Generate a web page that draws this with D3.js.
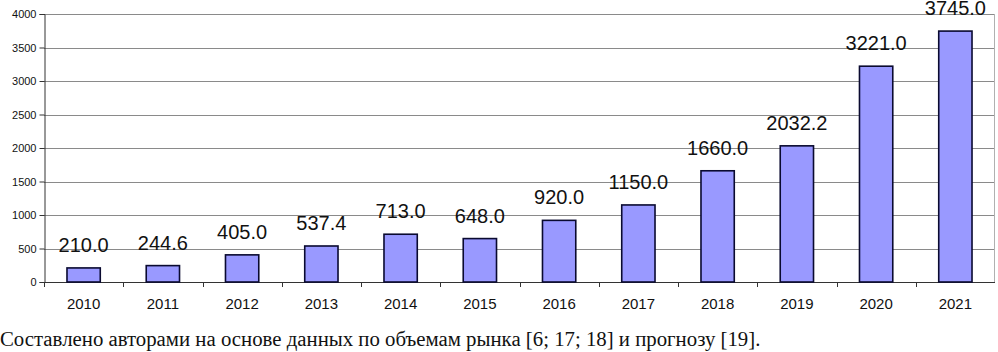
<!DOCTYPE html>
<html>
<head>
<meta charset="utf-8">
<script src="https://cdn.jsdelivr.net/npm/d3@7"></script>
<style>
  body { margin: 0; background: #fff; }
  svg { display: block; }
</style>
</head>
<body>
<div id="chart"></div>
<script>
const years = ['2010', '2011', '2012', '2013', '2014', '2015', '2016', '2017', '2018', '2019', '2020', '2021']
const values = [210.0, 244.6, 405.0, 537.4, 713.0, 648.0, 920.0, 1150.0, 1660.0, 2032.2, 3221.0, 3745.0]
const yTicks = [0, 500, 1000, 1500, 2000, 2500, 3000, 3500, 4000]
const caption = 'Составлено авторами на основе данных по объемам рынка [6; 17; 18] и прогнозу [19].'

const margin = { top: 14, right: 3, bottom: 70, left: 44 }
const totalWidth = 998
const totalHeight = 352
const width = totalWidth - margin.left - margin.right
const height = totalHeight - margin.top - margin.bottom

const svg = d3
  .select('#chart')
  .append('svg')
  .attr('width', totalWidth)
  .attr('height', totalHeight)

const g = svg
  .append('g')
  .attr('transform', 'translate(' + margin.left + ',' + margin.top + ')')

const xScale = d3.scaleBand()
  .domain(years)
  .range([0, width])
  .paddingInner(0.58)
  .paddingOuter(0.29)

const yScale = d3.scaleLinear()
  .domain([0, 4000])
  .range([height, 0])

// gridlines
g.selectAll('.grid')
  .data(yTicks.filter(d => d > 0))
  .enter()
  .append('line')
  .attr('class', 'grid')
  .attr('x1', 0)
  .attr('x2', width)
  .attr('y1', d => Math.round(yScale(d)) + 0.5)
  .attr('y2', d => Math.round(yScale(d)) + 0.5)
  .attr('stroke', '#8a8a8a')
  .attr('stroke-width', 1)

// right border
g.append('line')
  .attr('x1', width - 0.5)
  .attr('x2', width - 0.5)
  .attr('y1', 0)
  .attr('y2', height)
  .attr('stroke', '#b0b0b0')

// y axis
const yAxis = d3.axisLeft(yScale)
  .tickValues(yTicks)
  .tickFormat(d3.format('d'))
  .tickSize(5)
  .tickPadding(3)

g.append('g')
  .attr('class', 'y-axis')
  .attr('transform', 'translate(0.5,0)')
  .call(yAxis)
  .call(s => s.select('.domain').attr('stroke', '#333'))
  .call(s => s.selectAll('.tick line').attr('stroke', '#333'))
  .call(s => s.selectAll('.tick text')
    .attr('font-family', 'Arial, "Liberation Sans", sans-serif')
    .attr('font-size', '11px')
    .attr('fill', '#111'))

// x axis with ticks between categories
const step = xScale.step()
g.append('line')
  .attr('x1', 0)
  .attr('x2', width)
  .attr('y1', height + 0.5)
  .attr('y2', height + 0.5)
  .attr('stroke', '#333')

g.selectAll('.xtick')
  .data(years)
  .enter()
  .append('line')
  .attr('class', 'xtick')
  .attr('x1', (d, i) => Math.round(i * step) + 0.5)
  .attr('x2', (d, i) => Math.round(i * step) + 0.5)
  .attr('y1', height)
  .attr('y2', height + 5)
  .attr('stroke', '#333')

g.selectAll('.xlabel')
  .data(years)
  .enter()
  .append('text')
  .attr('class', 'xlabel')
  .attr('x', d => xScale(d) + xScale.bandwidth() / 2)
  .attr('y', height + 27)
  .attr('text-anchor', 'middle')
  .attr('font-family', 'Arial, "Liberation Sans", sans-serif')
  .attr('font-size', '15px')
  .attr('fill', '#111')
  .text(d => d)

// bars
const data = years.map((y, i) => ({ year: y, value: values[i] }))

g.selectAll('rect.bar')
  .data(data)
  .enter()
  .append('rect')
  .attr('class', 'bar')
  .attr('x', d => xScale(d.year))
  .attr('y', d => yScale(d.value))
  .attr('width', xScale.bandwidth())
  .attr('height', d => height - yScale(d.value))
  .attr('fill', '#9999ff')
  .attr('stroke', '#0a0a30')
  .attr('stroke-width', 1.6)

// value labels
g.selectAll('.value')
  .data(data)
  .enter()
  .append('text')
  .attr('class', 'value')
  .attr('x', d => xScale(d.year) + xScale.bandwidth() / 2)
  .attr('y', d => yScale(d.value) - 16)
  .attr('text-anchor', 'middle')
  .attr('font-family', 'Arial, "Liberation Sans", sans-serif')
  .attr('font-size', '20px')
  .attr('fill', '#111')
  .text(d => d.value.toFixed(1))

// caption
svg.append('text')
  .attr('x', 0)
  .attr('y', 346)
  .attr('font-family', '"Liberation Serif", "Times New Roman", serif')
  .attr('font-size', '20.8px')
  .attr('fill', '#111')
  .text(caption)
</script>
</body>
</html>
